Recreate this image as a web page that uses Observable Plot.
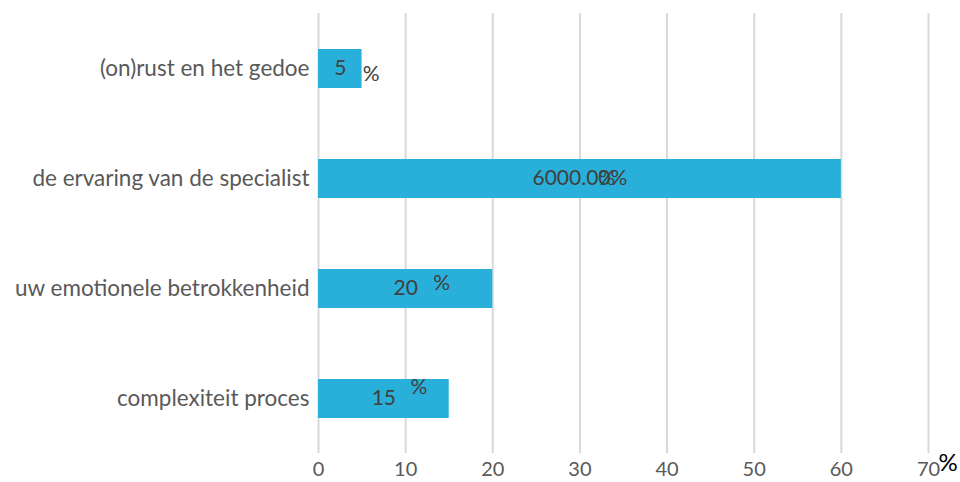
<!DOCTYPE html>
<html>
<head>
<meta charset="utf-8">
<script src="https://cdn.jsdelivr.net/npm/d3@7"></script>
<script src="https://cdn.jsdelivr.net/npm/@observablehq/plot@0.6"></script>
<style>
  html, body { margin: 0; padding: 0; background: #fff; }
  #chart { width: 960px; height: 482px; }
</style>
</head>
<body>
<div id="chart"></div>
<script>
const categories = ["(on)rust en het gedoe", "de ervaring van de specialist", "uw emotionele betrokkenheid", "complexiteit proces"];
const values = [5, 60, 20, 15];
const valueLabels = ["5", "6000.00%", "20", "15"];
const pctLabels = ["%", "%", "%", "%"];
const xTicks = [0, 10, 20, 30, 40, 50, 60, 70];
const axisUnit = "%";

const data = categories.map((c, i) => ({category: c, value: values[i], label: valueLabels[i], pct: pctLabels[i]}));

// offsets of the stray "%" labels (style, not data)
const pctOffsets = [[31, 5], [27, -1], [36, -6], [35, -12]];

const chart = Plot.plot({
  width: 960,
  height: 482,
  marginLeft: 318,
  marginRight: 32,
  marginTop: 13,
  marginBottom: 29,
  style: {fontFamily: "Lato, 'Open Sans', sans-serif", background: "#fff"},
  x: {domain: [0, 70], ticks: xTicks, label: null},
  y: {domain: categories, paddingInner: 0.65, paddingOuter: 0.325, label: null},
  marks: [
    Plot.gridX({ticks: xTicks, stroke: "#d9d9d9", strokeOpacity: 1, strokeWidth: 2}),
    Plot.axisX({ticks: xTicks, tickSize: 0, tickPadding: 8, fontSize: 20, color: "#595959", label: null}),
    Plot.axisY({tickSize: 0, tickPadding: 9, fontSize: 22.5, color: "#595959", label: null}),
    Plot.barX(data, {y: "category", x: "value", fill: "#29b0da"}),
    Plot.text(data, {y: "category", x: d => d.value / 2, text: "label", fill: "#404040", fontSize: 21, dy: -1}),
    ...pctOffsets.map(([dx, dy], i) =>
      Plot.text(data.filter((d, j) => j === i), {y: "category", x: d => d.value / 2, text: "pct", fill: "#404040", fontSize: 21, dx, dy})
    ),
    Plot.text([axisUnit], {frameAnchor: "bottom-right", text: d => d, textAnchor: "start", dx: 10, dy: 17, fontSize: 24, fill: "#000"})
  ]
});
document.getElementById("chart").appendChild(chart);
</script>
</body>
</html>
